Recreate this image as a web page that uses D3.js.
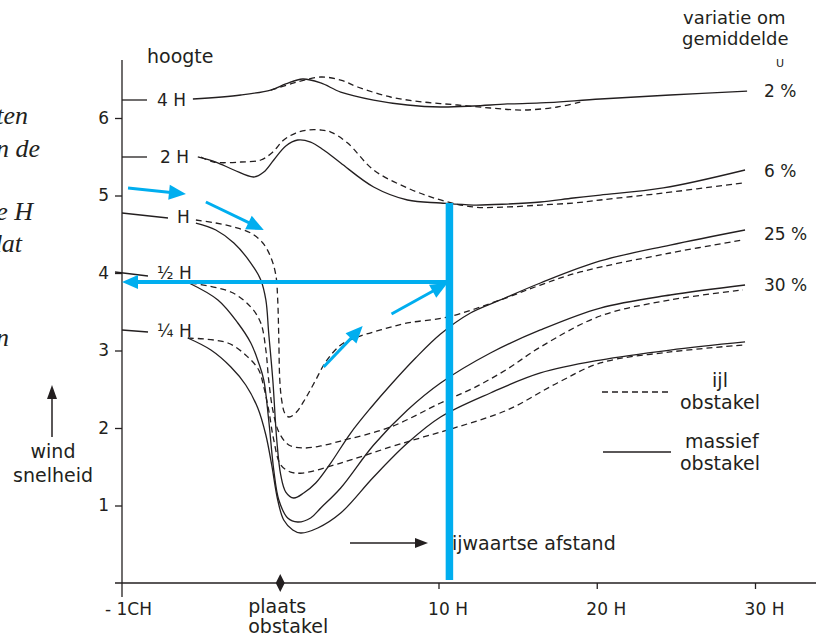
<!DOCTYPE html>
<html><head><meta charset="utf-8">
<script src="https://cdn.jsdelivr.net/npm/d3@7"></script>
<style>body{margin:0;background:#fff}svg{display:block}</style>
</head><body>
<svg id="c" width="816" height="640"></svg>
<script>
// ---- data (x in obstacle heights H, y = wind speed) ----
const yTicks = [1, 2, 3, 4, 5, 6];
const xTicks = [-10, 10, 20, 30];
const xTickLabels = ["- 1CH", "10 H", "20 H", "30 H"];
const heightLabels = ["4 H", "2 H", "H", "½ H", "¼ H"];
const pctLabels = ["2 %", "6 %", "25 %", "30 %"];

const h4Solid = [[-5.52,6.245],[-2.49,6.297],[-0.60,6.361],[0.35,6.439],[1.42,6.503],[2.56,6.452],[3.82,6.335],[5.90,6.232],[8.04,6.168],[10.13,6.142],[12.21,6.155],[14.35,6.181],[16.44,6.194],[20.22,6.245],[24.64,6.297],[29.50,6.348]];
const h4Dashed = [[-0.60,6.361],[-0.16,6.387],[1.10,6.465],[2.56,6.529],[3.82,6.490],[4.89,6.400],[6.97,6.271],[9.05,6.206],[11.20,6.168],[13.28,6.129],[15.36,6.103],[17.51,6.142],[18.96,6.206]];
const h2Solid = [[-5.21,5.497],[-4.07,5.432],[-2.93,5.329],[-1.67,5.239],[-1.04,5.303],[-0.41,5.458],[0.35,5.639],[1.10,5.716],[1.92,5.690],[2.74,5.587],[3.82,5.419],[5.90,5.110],[8.04,4.942],[10.13,4.903],[12.21,4.877],[14.35,4.890],[16.44,4.916],[18.52,4.968],[20.22,5.006],[24.20,5.097],[29.37,5.329]];
const h2Dashed = [[-5.02,5.497],[-4.20,5.432],[-2.49,5.432],[-1.23,5.458],[-0.47,5.561],[0.22,5.716],[0.98,5.806],[1.74,5.845],[2.56,5.845],[3.19,5.819],[4.26,5.677],[5.90,5.329],[8.04,5.097],[10.13,4.942],[12.21,4.852],[14.35,4.852],[16.44,4.877],[18.52,4.903],[20.22,4.942],[24.20,5.032],[29.24,5.161]];
const h1Solid = [[-5.33,4.645],[-4.07,4.555],[-2.93,4.387],[-1.86,4.129],[-1.23,3.910],[-0.91,3.652],[-0.73,3.226],[-0.47,2.619],[-0.22,1.845],[0.03,1.394],[0.35,1.174],[0.85,1.097],[1.48,1.161],[2.24,1.290],[3.19,1.548],[4.45,1.935],[5.71,2.258],[6.97,2.555],[8.55,2.903],[10.13,3.213],[12.02,3.484],[13.91,3.652],[16.44,3.871],[20.22,4.155],[24.64,4.361],[29.37,4.555]];
const h1Dashed = [[-5.33,4.684],[-4.07,4.645],[-2.93,4.594],[-1.86,4.516],[-1.10,4.387],[-0.60,4.206],[-0.28,3.974],[-0.16,3.652],[-0.09,3.135],[-0.03,2.619],[0.09,2.361],[0.28,2.194],[0.54,2.142],[0.98,2.194],[1.61,2.387],[2.24,2.619],[2.87,2.852],[3.82,3.071],[4.89,3.174],[6.34,3.265],[8.04,3.355],[10.57,3.432],[13.91,3.652],[16.44,3.845],[18.96,4.013],[24.64,4.258],[29.24,4.426]];
const hHalfSolid = [[-5.77,3.871],[-3.94,3.652],[-2.68,3.355],[-1.86,3.097],[-1.36,2.839],[-1.04,2.619],[-0.73,2.103],[-0.41,1.458],[-0.09,1.071],[0.47,0.839],[1.10,0.787],[1.92,0.839],[2.56,0.968],[3.82,1.226],[5.90,1.781],[8.04,2.232],[10.13,2.581],[13.28,2.968],[16.44,3.265],[20.22,3.548],[24.64,3.716],[29.37,3.845]];
const hHalfDashed = [[-5.65,3.871],[-3.12,3.755],[-1.86,3.561],[-1.23,3.355],[-0.91,3.006],[-0.73,2.619],[-0.47,2.232],[-0.09,1.948],[0.54,1.781],[1.42,1.742],[2.56,1.768],[3.82,1.832],[6.97,2.013],[10.13,2.323],[12.21,2.516],[14.35,2.761],[16.44,3.045],[20.22,3.445],[24.64,3.652],[29.24,3.781]];
const hQuarterSolid = [[-5.84,3.161],[-4.38,3.006],[-3.12,2.787],[-2.18,2.555],[-1.42,2.258],[-0.91,1.910],[-0.54,1.523],[-0.16,1.071],[0.22,0.813],[0.79,0.684],[1.29,0.645],[2.37,0.710],[3.82,0.903],[5.90,1.368],[8.04,1.806],[10.13,2.142],[13.28,2.452],[16.44,2.710],[20.22,2.877],[24.64,3.006],[29.37,3.110]];
const hQuarterDashed = [[-5.84,3.161],[-3.31,3.097],[-2.05,2.916],[-1.36,2.748],[-1.04,2.529],[-0.73,2.232],[-0.41,1.845],[0.03,1.523],[0.66,1.432],[1.42,1.419],[3.82,1.548],[6.97,1.755],[9.05,1.884],[11.20,2.013],[14.35,2.232],[17.51,2.581],[20.22,2.839],[24.64,2.981],[29.24,3.071]];

// blue annotation arrows [x0,y0,x1,y1]
const flowArrows = [[-9.62,5.097,-5.96,5.019],[-4.70,4.916,-1.04,4.555],[2.74,2.787,5.21,3.316],[7.03,3.471,10.57,3.871]];
const markerX = 10.69, markerTop = 4.903, markerY = 3.884;

// ---- drawing ----
const svg = d3.select("#c");
const x = d3.scaleLinear().domain([-10, 30]).range([122, 755]);
const y = d3.scaleLinear().domain([0, 6]).range([583, 118]);
const ink = "#231f20", blue = "#00aeef";
const sans = "'DejaVu Sans', sans-serif";

const line = d3.line().x(d => x(d[0])).y(d => y(d[1])).curve(d3.curveCatmullRom.alpha(0.5));

// left cut-off serif fragments (cut off by the page edge, as in the source)
const frag = [["ten",28,124],["n de",40,157],["e H",33,220],["dat",22,252],["n",9,346]];
svg.selectAll("text.frag").data(frag).join("text").attr("class","frag")
  .attr("x",d=>d[1]).attr("y",d=>d[2]).attr("text-anchor","end")
  .attr("font-family","'Liberation Serif', serif").attr("font-style","italic").attr("font-size",26)
  .attr("fill",ink).text(d=>d[0]);

// axes lines
svg.append("line").attr("x1",122).attr("x2",122).attr("y1",60).attr("y2",597).attr("stroke",ink).attr("stroke-width",1.3);
svg.append("line").attr("x1",115).attr("x2",816).attr("y1",y(0)).attr("y2",y(0)).attr("stroke",ink).attr("stroke-width",1.3);

const gy = svg.append("g").attr("transform","translate(122,0)")
  .call(d3.axisLeft(y).tickValues(yTicks).tickSize(7).tickPadding(6).tickFormat(d3.format("d")));
gy.select(".domain").remove();
gy.selectAll("line").attr("stroke",ink).attr("stroke-width",1.3);
gy.selectAll("text").attr("font-family",sans).attr("font-size",17).attr("fill",ink);

const gx = svg.append("g").attr("transform",`translate(0,${y(0)})`)
  .call(d3.axisBottom(x).tickValues(xTicks).tickSize(6).tickPadding(14).tickFormat((d,i)=>xTickLabels[i]));
gx.select(".domain").remove();
gx.selectAll("line").attr("stroke",ink).attr("stroke-width",1.3).attr("opacity",(d)=>d===-10?0:1);
gx.selectAll("text").attr("font-family",sans).attr("font-size",17).attr("fill",ink).attr("dx",(d)=>d===-10?6:9);

// obstacle diamond and label
const ox = x(0), oy = y(0);
svg.append("path").attr("d",`M${ox},${oy-9}L${ox+4.5},${oy}L${ox},${oy+9}L${ox-4.5},${oy}Z`).attr("fill",ink);
svg.append("text").attr("x",ox-32).attr("y",613).attr("font-family",sans).attr("font-size",19).attr("fill",ink).text("plaats");
svg.append("text").attr("x",ox-32).attr("y",633).attr("font-family",sans).attr("font-size",19).attr("fill",ink).text("obstakel");

// curves
const curves = [
  [h4Solid,false],[h4Dashed,true],[h2Solid,false],[h2Dashed,true],
  [h1Solid,false],[h1Dashed,true],[hHalfSolid,false],[hHalfDashed,true],
  [hQuarterSolid,false],[hQuarterDashed,true]
];
svg.append("g").selectAll("path").data(curves).join("path")
  .attr("d",d=>line(d[0])).attr("fill","none").attr("stroke",ink).attr("stroke-width",1.3)
  .attr("stroke-dasharray",d=>d[1]?"6,4":null);

// height labels with leaders
const leaders = [[122,100,147,100,157,100],[122,157,147,157,160,157],[122,213,168,218,177,217],[115,272,148,276,157,273],[122,330,148,332,157,331]];
heightLabels.forEach((t,i)=>{
  const L = leaders[i];
  svg.append("line").attr("x1",L[0]).attr("y1",L[1]).attr("x2",L[2]).attr("y2",L[3]).attr("stroke",ink).attr("stroke-width",1.3);
  svg.append("text").attr("x",L[4]).attr("y",L[5]).attr("dy","0.35em").attr("font-family",sans).attr("font-size",17).attr("fill",ink).text(t);
});
svg.append("text").attr("x",147).attr("y",63).attr("font-family",sans).attr("font-size",19).attr("fill",ink).text("hoogte");

// right labels
const rightEnds = [h4Solid, h2Solid, h1Solid, hHalfSolid];
const pctDy = [0, 1, 4, 0];
pctLabels.forEach((t,i)=>{
  const e = rightEnds[i][rightEnds[i].length-1];
  svg.append("text").attr("x",764).attr("y",y(e[1])+pctDy[i]).attr("dy","0.35em").attr("font-family",sans).attr("font-size",17).attr("fill",ink).text(t);
});
svg.append("text").attr("x",683).attr("y",24).attr("font-family",sans).attr("font-size",18).attr("fill",ink).text("variatie om");
svg.append("text").attr("x",682).attr("y",45).attr("font-family",sans).attr("font-size",18).attr("fill",ink).text("gemiddelde");
svg.append("text").attr("x",776).attr("y",67).attr("font-family",sans).attr("font-size",11).attr("fill",ink).text("U");

// legend
svg.append("line").attr("x1",602).attr("x2",672).attr("y1",392).attr("y2",392).attr("stroke",ink).attr("stroke-width",1.3).attr("stroke-dasharray","6,4");
svg.append("text").attr("x",720).attr("y",387).attr("text-anchor","middle").attr("font-family",sans).attr("font-size",19).attr("fill",ink).text("ijl");
svg.append("text").attr("x",680).attr("y",409).attr("font-family",sans).attr("font-size",19).attr("fill",ink).text("obstakel");
svg.append("line").attr("x1",603).attr("x2",671).attr("y1",452).attr("y2",452).attr("stroke",ink).attr("stroke-width",1.3);
svg.append("text").attr("x",685).attr("y",448).attr("font-family",sans).attr("font-size",19).attr("fill",ink).text("massief");
svg.append("text").attr("x",680).attr("y",470).attr("font-family",sans).attr("font-size",19).attr("fill",ink).text("obstakel");

// y-axis title with arrow
svg.append("line").attr("x1",52).attr("x2",52).attr("y1",437).attr("y2",398).attr("stroke",ink).attr("stroke-width",1.5);
svg.append("path").attr("d","M52,385L47,399L57,399Z").attr("fill",ink);
svg.append("text").attr("x",53).attr("y",458).attr("text-anchor","middle").attr("font-family",sans).attr("font-size",19).attr("fill",ink).text("wind");
svg.append("text").attr("x",53).attr("y",482).attr("text-anchor","middle").attr("font-family",sans).attr("font-size",19).attr("fill",ink).text("snelheid");

// x-axis title with arrow
svg.append("line").attr("x1",350).attr("x2",418).attr("y1",543).attr("y2",543).attr("stroke",ink).attr("stroke-width",1.3);
svg.append("path").attr("d","M428,543L415,538L415,548Z").attr("fill",ink);

// blue annotations
function arrow(x0,y0,x1,y1,w,len,hw){
  const dx=x1-x0, dy=y1-y0, L=Math.hypot(dx,dy), ux=dx/L, uy=dy/L;
  const bx=x1-ux*len, by=y1-uy*len;
  svg.append("line").attr("x1",x0).attr("y1",y0).attr("x2",bx+ux*2).attr("y2",by+uy*2).attr("stroke",blue).attr("stroke-width",w);
  svg.append("path").attr("d",`M${x1},${y1}L${bx-uy*hw},${by+ux*hw}L${bx+uy*hw},${by-ux*hw}Z`).attr("fill",blue);
}
flowArrows.forEach(a=>arrow(x(a[0]),y(a[1]),x(a[2]),y(a[3]),3,17,7.5));
svg.append("line").attr("x1",x(markerX)).attr("x2",x(markerX)).attr("y1",y(markerTop)).attr("y2",y(0)-3).attr("stroke",blue).attr("stroke-width",7.5);
arrow(x(markerX),y(markerY),x(-10),y(markerY),4,16,7);

svg.append("text").attr("x",452).attr("y",550).attr("font-family",sans).attr("font-size",19).attr("fill",ink).text("ijwaartse afstand");
</script>
</body></html>
